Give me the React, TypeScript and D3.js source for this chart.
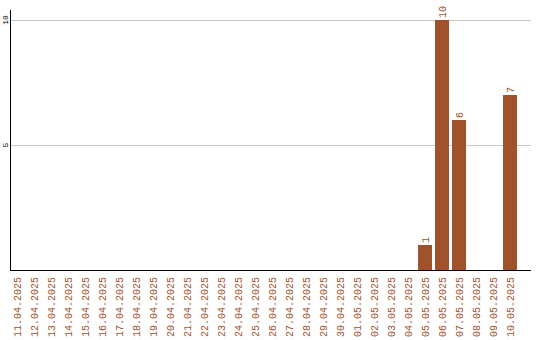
import React from "react";
import * as d3 from "d3";

const dates = [
  "11.04.2025", "12.04.2025", "13.04.2025", "14.04.2025", "15.04.2025",
  "16.04.2025", "17.04.2025", "18.04.2025", "19.04.2025", "20.04.2025",
  "21.04.2025", "22.04.2025", "23.04.2025", "24.04.2025", "25.04.2025",
  "26.04.2025", "27.04.2025", "28.04.2025", "29.04.2025", "30.04.2025",
  "01.05.2025", "02.05.2025", "03.05.2025", "04.05.2025", "05.05.2025",
  "06.05.2025", "07.05.2025", "08.05.2025", "09.05.2025", "10.05.2025",
];
const counts = [
  0, 0, 0, 0, 0, 0, 0, 0, 0, 0,
  0, 0, 0, 0, 0, 0, 0, 0, 0, 0,
  0, 0, 0, 0, 1, 10, 6, 0, 0, 7,
];
const yTicks = [5, 10];

const W = 540;
const H = 340;
const left = 10;
const right = 531;
const top = 10;
const bottom = 270;
const color = "#A0522D";
const mono = "'Liberation Mono', 'DejaVu Sans Mono', monospace";

export default function App() {
  const x = d3
    .scaleBand<string>()
    .domain(dates)
    .range([left, 517])
    .paddingInner(3 / 17)
    .paddingOuter(0)
    .align(0);
  const y = d3.scaleLinear().domain([0, 10]).range([bottom, 20]);
  const bw = x.bandwidth();

  return (
    <svg
      width={W}
      height={H}
      style={{ position: "absolute", left: 0, top: 0 }}
    >
      <rect width={W} height={H} fill="#fff" />
      {yTicks.map((t) => (
        <g key={t}>
          <line
            x1={left}
            x2={right}
            y1={Math.round(y(t)) + 0.5}
            y2={Math.round(y(t)) + 0.5}
            stroke="#c8c8c8"
          />
          <text
            transform={`translate(5,${y(t)}) rotate(-90)`}
            textAnchor="middle"
            dy="0.35em"
            fontFamily={mono}
            fontSize={8}
            fill="#000"
          >
            {t}
          </text>
        </g>
      ))}
      {dates.map((d, i) => {
        const v = counts[i];
        if (!v) return null;
        const x0 = x(d)!;
        return (
          <g key={d}>
            <rect
              x={x0}
              y={y(v)}
              width={bw}
              height={bottom - y(v)}
              fill={color}
            />
            <text
              transform={`translate(${x0 + bw / 2},${y(v) - 2}) rotate(-90)`}
              textAnchor="start"
              dy="0.35em"
              fontFamily={mono}
              fontSize={10}
              fill={color}
            >
              {v}
            </text>
          </g>
        );
      })}
      <line x1={left + 0.5} x2={left + 0.5} y1={top} y2={bottom} stroke="#000" />
      <line x1={left} x2={right} y1={bottom + 0.5} y2={bottom + 0.5} stroke="#000" />
      {dates.map((d) => (
        <text
          key={d}
          transform={`translate(${x(d)! + bw / 2},277) rotate(-90)`}
          textAnchor="end"
          dy="0.35em"
          fontFamily={mono}
          fontSize={10}
          fill={color}
        >
          {d}
        </text>
      ))}
    </svg>
  );
}
